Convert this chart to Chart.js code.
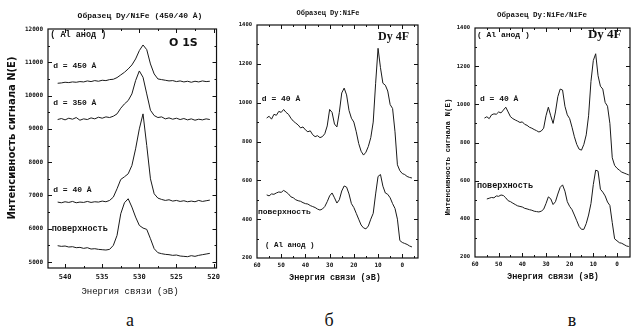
<!DOCTYPE html>
<html>
<head>
<meta charset="utf-8">
<script src="https://cdn.jsdelivr.net/npm/chart.js@4/dist/chart.umd.min.js"></script>
<style>
  html, body { margin: 0; padding: 0; background: #fff; }
  #wrap { position: relative; width: 635px; height: 329px; overflow: hidden; background: #fff; }
  canvas { position: absolute; top: 0; }
  .lt { position: absolute; font-family: "Liberation Serif", serif; font-size: 18px; color: #111; transform: translate(-50%, -50%); }
</style>
</head>
<body>
<div id="wrap">
  <canvas id="ca" width="225" height="300" style="left:0px"></canvas>
  <canvas id="cb" width="200" height="300" style="left:222px"></canvas>
  <canvas id="cc" width="210" height="300" style="left:425px"></canvas>
  <div class="lt" style="left:130px; top:320px">а</div>
  <div class="lt" style="left:329px; top:320px">б</div>
  <div class="lt" style="left:572px; top:320px">в</div>
</div>
<script>
// ---------- Panel а: O 1S ----------
const energyA = [541, 540.5, 540, 539.5, 539, 538.5, 538, 537.5, 537, 536.5, 536, 535.5, 535, 534.5, 534, 533.5, 533, 532.5, 532, 531.5, 531, 530.5, 530, 529.5, 529, 528.5, 528, 527.5, 527, 526.5, 526, 525.5, 525, 524.5, 524, 523.5, 523, 522.5, 522, 521.5, 521, 520.5];
const a450 = [10370, 10380, 10400, 10390, 10410, 10400, 10420, 10410, 10440, 10420, 10450, 10430, 10460, 10450, 10480, 10490, 10540, 10620, 10700, 10800, 10920, 11100, 11350, 11520, 11380, 10950, 10650, 10500, 10480, 10460, 10440, 10450, 10420, 10440, 10410, 10430, 10400, 10430, 10410, 10440, 10420, 10430];
const a350 = [9280, 9310, 9270, 9320, 9290, 9340, 9260, 9300, 9280, 9330, 9300, 9350, 9320, 9360, 9340, 9380, 9450, 9620, 9750, 9850, 10050, 10450, 10740, 10550, 10050, 9560, 9400, 9340, 9360, 9300, 9330, 9290, 9320, 9280, 9310, 9270, 9300, 9260, 9290, 9270, 9300, 9280];
const a40 = [6800, 6780, 6810, 6790, 6820, 6780, 6800, 6790, 6820, 6790, 6810, 6800, 6830, 6810, 6850, 6950, 7200, 7480, 7560, 7650, 7900, 8400, 9000, 9450, 8500, 7500, 7050, 6920, 6880, 6850, 6870, 6830, 6850, 6820, 6840, 6810, 6830, 6810, 6850, 6820, 6840, 6860];
const aSurf = [5490, 5470, 5480, 5450, 5460, 5430, 5440, 5410, 5430, 5390, 5400, 5380, 5370, 5360, 5380, 5500, 5800, 6450, 6780, 6900, 6650, 6350, 6100, 6020, 5980, 5700, 5400, 5280, 5250, 5230, 5220, 5200, 5210, 5180, 5170, 5160, 5190, 5170, 5200, 5220, 5240, 5260];
const xTicksA = [540, 535, 530, 525, 520];
const yTicksA = [5000, 6000, 7000, 8000, 9000, 10000, 11000, 12000];

// ---------- Panel б: Dy 4F (Dy:NiFe) ----------
const energyB = [56, 55, 54, 53, 52, 51, 50, 49, 48, 47, 46, 45, 44, 43, 42, 41, 40, 39, 38, 37, 36, 35, 34, 33, 32, 31, 30, 29, 28, 27, 26, 25, 24, 23, 22, 21, 20, 19, 18, 17, 16, 15, 14, 13, 12, 11, 10, 9, 8, 7, 6, 5, 4, 3, 2, 1, 0, -1, -2, -3, -4];
const bD40 = [921, 930, 915, 940, 935, 955, 950, 965, 950, 940, 920, 905, 895, 885, 870, 875, 860, 850, 855, 835, 825, 830, 820, 825, 840, 880, 965, 950, 890, 875, 950, 1050, 1075, 1040, 960, 920, 900, 850, 790, 750, 730, 745, 775, 820, 900, 1100, 1280, 1180, 1100, 1090, 1060, 990, 970, 850, 680, 650, 635, 630, 620, 615, 612];
const bSurf = [525, 520, 530, 528, 535, 540, 538, 548, 540, 530, 515, 510, 500, 495, 492, 485, 480, 478, 470, 465, 460, 452, 447, 452, 465, 490, 520, 535, 510, 483, 500, 545, 571, 565, 530, 480, 460, 430, 400, 370, 355, 350, 365, 400, 430, 530, 620, 630, 570, 535, 528, 510, 480, 455, 400, 290, 280, 275, 270, 262, 257];

// ---------- Panel в: Dy 4F (Dy:NiFe/NiFe) ----------
const energyC = [56, 55, 54, 53, 52, 51, 50, 49, 48, 47, 46, 45, 44, 43, 42, 41, 40, 39, 38, 37, 36, 35, 34, 33, 32, 31, 30, 29, 28, 27, 26, 25, 24, 23, 22, 21, 20, 19, 18, 17, 16, 15, 14, 13, 12, 11, 10, 9, 8, 7, 6, 5, 4, 3, 2, 1, 0, -1, -2, -3, -4, -5];
const cD40 = [928, 935, 925, 945, 950, 948, 960, 955, 970, 985, 960, 935, 925, 918, 912, 905, 908, 895, 890, 880, 875, 868, 862, 855, 860, 875, 940, 985, 940, 900, 960, 1040, 1080, 1075, 990, 945, 925, 880, 830, 790, 765, 760, 790, 840, 940, 1120, 1230, 1265, 1150, 1095, 1080, 1010, 990, 900, 720, 680, 665, 655, 645, 640, 635, 630];
const cSurf = [null, 504, 508, 512, 510, 520, 518, 525, 522, 510, 495, 490, 482, 475, 468, 465, 462, 455, 452, 448, 445, 440, 438, 436, 440, 450, 480, 515, 505, 475, 490, 530, 565, 578, 545, 490, 465, 448, 420, 390, 360, 345, 345, 375, 420, 480, 580, 655, 650, 555, 540, 520, 488, 470, 380, 295, 285, 275, 272, 265, 258, 255];
const xTicksBC = [60, 50, 40, 30, 20, 10, 0];
const yTicksBC = [200, 400, 600, 800, 1000, 1200, 1400];

// ---------- decoration plugin: frame, inner ticks, text ----------
const decorPlugin = {
  id: 'decor',
  afterDatasetsDraw(chart, args, o) {
    const { ctx, chartArea: a } = chart;
    const xs = chart.scales.x, ys = chart.scales.y;
    ctx.save();
    ctx.strokeStyle = '#111';
    ctx.lineWidth = 1.2;
    ctx.strokeRect(a.left, a.top, a.right - a.left, a.bottom - a.top);
    ctx.lineWidth = 1;
    ctx.beginPath();
    const drawX = (v, len) => {
      const p = Math.round(xs.getPixelForValue(v)) + 0.5;
      if (p < a.left + 1 || p > a.right - 1) return;
      ctx.moveTo(p, a.bottom); ctx.lineTo(p, a.bottom - len);
      ctx.moveTo(p, a.top); ctx.lineTo(p, a.top + len);
    };
    const drawY = (v, len) => {
      const p = Math.round(ys.getPixelForValue(v)) + 0.5;
      if (p < a.top + 1 || p > a.bottom - 1) return;
      ctx.moveTo(a.left, p); ctx.lineTo(a.left + len, p);
      ctx.moveTo(a.right, p); ctx.lineTo(a.right - len, p);
    };
    const lo = (s) => Math.min(s.min, s.max), hi = (s) => Math.max(s.min, s.max);
    for (let v = Math.ceil(lo(xs) / o.xMinor) * o.xMinor; v <= hi(xs); v += o.xMinor) {
      const isMaj = Math.abs(v / o.xMajor - Math.round(v / o.xMajor)) < 1e-6;
      drawX(v, isMaj ? 4 : 2);
    }
    for (let v = Math.ceil(lo(ys) / o.yMinor) * o.yMinor; v <= hi(ys); v += o.yMinor) {
      const isMaj = Math.abs(v / o.yMajor - Math.round(v / o.yMajor)) < 1e-6;
      drawY(v, isMaj ? 4 : 2);
    }
    ctx.stroke();
    ctx.fillStyle = '#111';
    for (const t of o.texts) {
      let px, py;
      if (t.data) { px = xs.getPixelForValue(t.x); py = ys.getPixelForValue(t.y); }
      else { px = t.px; py = t.py; }
      ctx.save();
      ctx.translate(px, py);
      if (t.rot) ctx.rotate(t.rot * Math.PI / 180);
      ctx.font = t.font;
      ctx.textAlign = t.align || 'left';
      ctx.textBaseline = 'middle';
      ctx.fillText(t.t, 0, 0);
      ctx.restore();
    }
    ctx.restore();
  }
};

function makePanel(id, xs, series, opt) {
  return new Chart(document.getElementById(id), {
    type: 'line',
    data: {
      datasets: series.map(s => ({
        data: xs.map((e, i) => ({ x: e, y: s[i] })),
        borderColor: '#1a1a1a', borderWidth: 1, pointRadius: 0, tension: 0, fill: false
      }))
    },
    options: {
      responsive: false, animation: false, events: [],
      layout: { padding: opt.pad },
      plugins: { legend: { display: false }, tooltip: { enabled: false }, title: { display: false }, decor: opt.decor },
      scales: {
        x: {
          type: 'linear', reverse: true, min: opt.xMin, max: opt.xMax,
          grid: { display: false, drawTicks: false }, border: { display: false },
          afterBuildTicks: s => { s.ticks = opt.xTicks.map(v => ({ value: v })); },
          afterFit: s => { s.height = opt.xH; },
          ticks: { padding: opt.xPad, color: '#111', maxRotation: 0, autoSkip: false, font: opt.xFont, callback: v => String(v) }
        },
        y: {
          type: 'linear', min: opt.yMin, max: opt.yMax,
          grid: { display: false, drawTicks: false }, border: { display: false },
          afterBuildTicks: s => { s.ticks = opt.yTicks.map(v => ({ value: v })); },
          afterFit: s => { s.width = opt.yW; },
          ticks: { padding: opt.yPad, color: '#111', autoSkip: false, font: opt.yFont, callback: v => String(v) }
        }
      }
    },
    plugins: [decorPlugin]
  });
}

const mono = '"DejaVu Sans Mono"';
const lmono = '"Liberation Mono"';

makePanel('ca', energyA, [a450, a350, a40, aSurf], {
  pad: { left: 2, right: 7, top: 29, bottom: 0 },
  xMin: 519.6, xMax: 542.3, yMin: 4820, yMax: 12000,
  xTicks: xTicksA, yTicks: yTicksA, xH: 32, yW: 46, xPad: 5, yPad: 5,
  xFont: { family: mono, size: 7, weight: 'bold' }, yFont: { family: mono, size: 6, weight: 'bold' },
  decor: {
    xMajor: 5, xMinor: 2.5, yMajor: 1000, yMinor: 500,
    texts: [
      { t: 'Образец Dy/NiFe (450/40 Å)', px: 140, py: 16, font: `bold 8px ${lmono}`, align: 'center' },
      { t: 'Энергия связи (эВ)', px: 130, py: 292, font: `9px ${lmono}`, align: 'center' },
      { t: 'Интенсивность сигнала N(E)', px: 12, py: 138, rot: -90, font: `bold 10px "DejaVu Sans"`, align: 'center' },
      { data: true, t: '( Al анод )', x: 542.0, y: 11820, font: `bold 8.5px ${lmono}` },
      { data: true, t: 'O 1S', x: 526, y: 11580, font: `bold 11px "DejaVu Sans"` },
      { data: true, t: 'd = 450 Å', x: 541.6, y: 10890, font: `bold 8px ${lmono}` },
      { data: true, t: 'd = 350 Å', x: 541.6, y: 9780, font: `bold 8px ${lmono}` },
      { data: true, t: 'd = 40 Å', x: 541.6, y: 7170, font: `bold 8px ${lmono}` },
      { data: true, t: 'поверхность', x: 541.8, y: 5990, font: `bold 8.5px ${lmono}` }
    ]
  }
});

makePanel('cb', energyB, [bD40, bSurf], {
  pad: { left: 2, right: 4, top: 25, bottom: 0 },
  xMin: -6.5, xMax: 60, yMin: 200, yMax: 1400,
  xTicks: xTicksBC, yTicks: yTicksBC, xH: 42, yW: 33, xPad: 4, yPad: 5,
  xFont: { family: mono, size: 6, weight: 'bold' }, yFont: { family: mono, size: 5.5, weight: 'bold' },
  decor: {
    xMajor: 10, xMinor: 5, yMajor: 200, yMinor: 100,
    texts: [
      { t: 'Образец Dy:NiFe', px: 106, py: 13, font: `bold 7px ${lmono}`, align: 'center' },
      { t: 'Энергия связи (эВ)', px: 113, py: 278, font: `bold 8.5px ${lmono}`, align: 'center' },
      { data: true, t: 'Dy 4F', x: 10, y: 1338, font: `bold 12px "Liberation Serif"` },
      { data: true, t: 'd = 40 Å', x: 58, y: 1019, font: `bold 8px ${lmono}` },
      { data: true, t: 'поверхность', x: 59.6, y: 437, font: `bold 8px ${lmono}` },
      { data: true, t: '( Al анод )', x: 56.7, y: 267, font: `bold 7.5px ${lmono}` }
    ]
  }
});

makePanel('cc', energyC, [cD40, cSurf], {
  pad: { left: 2, right: 5, top: 28, bottom: 0 },
  xMin: -5.5, xMax: 60, yMin: 200, yMax: 1400,
  xTicks: xTicksBC, yTicks: yTicksBC, xH: 43, yW: 48, xPad: 4, yPad: 5,
  xFont: { family: mono, size: 6, weight: 'bold' }, yFont: { family: mono, size: 5.5, weight: 'bold' },
  decor: {
    xMajor: 10, xMinor: 5, yMajor: 200, yMinor: 100,
    texts: [
      { t: 'Образец Dy:NiFe/NiFe', px: 117, py: 15, font: `bold 7.5px ${lmono}`, align: 'center' },
      { t: 'Энергия связи (эВ)', px: 128, py: 277, font: `bold 8.5px ${lmono}`, align: 'center' },
      { t: 'Интенсивность сигнала N(E)', px: 23, py: 157, rot: -90, font: `bold 7.5px ${lmono}`, align: 'center' },
      { data: true, t: '( Al анод )', x: 59.2, y: 1363, font: `bold 8px ${lmono}` },
      { data: true, t: 'Dy 4F', x: 12.3, y: 1363, font: `bold 13px "Liberation Serif"` },
      { data: true, t: 'd = 40 Å', x: 57.9, y: 1028, font: `bold 8px ${lmono}` },
      { data: true, t: 'поверхность', x: 59.2, y: 572, font: `bold 8.5px ${lmono}` }
    ]
  }
});
</script>
</body>
</html>
